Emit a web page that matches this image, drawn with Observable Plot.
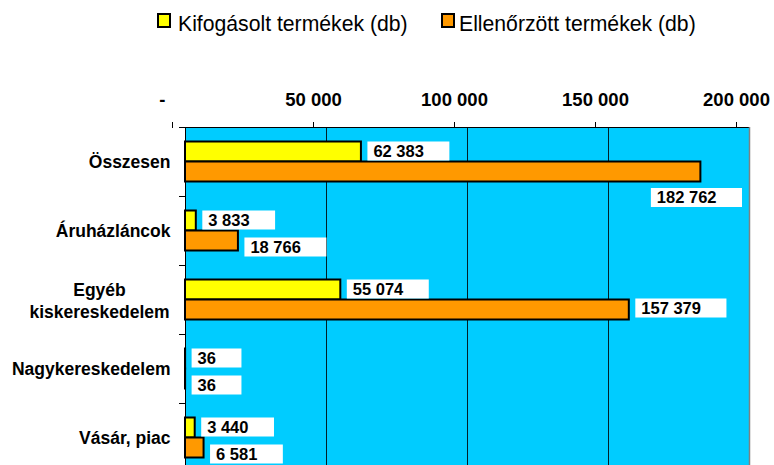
<!DOCTYPE html>
<html><head><meta charset="utf-8">
<script src="https://cdn.jsdelivr.net/npm/d3@7"></script>
<script src="https://cdn.jsdelivr.net/npm/@observablehq/plot@0.6"></script>
<style>
html,body{margin:0;padding:0;background:#fff;overflow:hidden;}
#wrap{position:relative;width:774px;height:465px;overflow:hidden;}
#wrap svg{position:absolute;left:0;top:0;}
.leg{position:absolute;font-family:"Liberation Sans",Arial,sans-serif;font-size:21.2px;line-height:21px;color:#000;white-space:nowrap;}
.sw{position:absolute;width:10px;height:11px;border:2px solid #000;}
</style></head><body><div id="wrap"></div>
<script>
const categories = ["Összesen", "Áruházláncok", "Egyéb\nkiskereskedelem", "Nagykereskedelem", "Vásár, piac"];
const kifogasolt = [62383, 3833, 55074, 36, 3440];
const ellenorzott = [182762, 18766, 157379, 36, 6581];
const seriesNames = ["Kifogásolt termékek (db)", "Ellenőrzött termékek (db)"];
const seriesColors = ["#FFFF00", "#FF9900"];
const xTicks = [0, 50000, 100000, 150000, 200000];
const gridTicks = [50000, 100000, 150000];

const font = '"Liberation Sans", Arial, sans-serif';
const fmt = v => d3.format(",")(v).replace(/,/g, " ");
const PAD = 14.5, BAR = 20;

const rows = categories.flatMap((c, i) => [
  {cat: c, s: 0, v: kifogasolt[i]},
  {cat: c, s: 1, v: ellenorzott[i]}
]);

function valueLabels(index, scales, values, dims) {
  const {x, y} = scales;
  const right = dims.width - dims.marginRight;
  const fs = 16.5;
  const tw = s => [...s].reduce((a, c) => a + (c === " " ? 0.278 : 0.556) * fs, 0);
  const g = d3.create("svg:g")
    .attr("font-size", fs).attr("font-weight", "bold").attr("font-family", font)
    .attr("fill", "#000").attr("text-anchor", "start");
  categories.forEach((c, i) => {
    const y0 = y(c);
    const sY = fmt(kifogasolt[i]), sE = fmt(ellenorzott[i]);
    const tY = x(kifogasolt[i]) + 12.5;
    let tE = x(ellenorzott[i]) + 12.5;
    const cY = y0 + PAD + BAR / 2 - 0.5;
    let cE = y0 + PAD + BAR * 1.5;
    const boxY = [tY - 6, tY + tw(sY) + 25.5];
    let boxE = [tE - 6, tE + tw(sE) + 25.5];
    if (boxE[1] > right) {
      const w = boxE[1] - boxE[0];
      boxE = [right - 7 - w, right - 7];
      tE = boxE[0] + 6;
      cE += 26;
    } else if (boxE[0] < boxY[1]) {
      cE += 6.5;
    } else {
      cE -= 1.5;
    }
    for (const [b, t, cc, s] of [[boxY, tY, cY, sY], [boxE, tE, cE, sE]]) {
      g.append("rect").attr("x", b[0]).attr("y", cc - 9.5)
        .attr("width", b[1] - b[0]).attr("height", 19).attr("fill", "#fff");
      g.append("text").attr("x", t).attr("y", cc + 5.5).text(s);
    }
  });
  return g.node();
}

const chart = Plot.plot({
  width: 774, height: 475,
  marginTop: 127, marginLeft: 185, marginRight: 25, marginBottom: 3,
  style: {fontFamily: font, fontWeight: "bold", background: "transparent", color: "#000"},
  x: {domain: [0, 200000], label: null},
  y: {domain: categories, padding: 0, label: null},
  marks: [
    Plot.frame({fill: "#00CCFF"}),
    Plot.gridX({ticks: gridTicks, stroke: "#000", strokeOpacity: 0.85}),
    Plot.frame({stroke: "#000"}),
    Plot.ruleX([200000], {stroke: "#808080", strokeWidth: 1.5}),
    Plot.barX(rows.filter(d => d.s === 0), {x: "v", y: "cat", fill: seriesColors[0], stroke: "#000", strokeWidth: 2, insetTop: PAD, insetBottom: PAD + BAR}),
    Plot.barX(rows.filter(d => d.s === 1), {x: "v", y: "cat", fill: seriesColors[1], stroke: "#000", strokeWidth: 2, insetTop: PAD + BAR, insetBottom: PAD}),
    Plot.axisX({anchor: "top", ticks: xTicks, tickSize: 6, tickPadding: 16, dx: -13, label: null,
      tickFormat: v => v === 0 ? "-\u00a0\u00a0\u00a0\u00a0" : fmt(v),
      fontSize: 18.5, fontWeight: "bold", stroke: "#000"}),
    Plot.axisY({tickSize: 6, dy: -34.5, tickFormat: () => "", stroke: "#000", label: null}),
    Plot.axisY({tickSize: 0, tickPadding: 15, fontSize: 17.5, fontWeight: "bold", label: null,
      tickFormat: c => c.includes("\n") ? "" : c}),
    Plot.text(categories.filter(c => c.includes("\n")), {y: d => d, text: d => d, frameAnchor: "left",
      textAnchor: "middle", dx: -86, lineHeight: 1.22, fontSize: 17.5, fontWeight: "bold"}),
    valueLabels
  ]
});

const wrap = document.getElementById("wrap");
wrap.appendChild(chart);

const legendPos = [{sq: 157, tx: 178}, {sq: 441, tx: 459}];
seriesNames.forEach((name, i) => {
  const sq = document.createElement("div");
  sq.className = "sw";
  sq.style.left = legendPos[i].sq + "px";
  sq.style.top = "13px";
  sq.style.background = seriesColors[i];
  wrap.appendChild(sq);
  const t = document.createElement("div");
  t.className = "leg";
  t.style.left = legendPos[i].tx + "px";
  t.style.top = "13px";
  t.textContent = name;
  wrap.appendChild(t);
});
</script></body></html>
